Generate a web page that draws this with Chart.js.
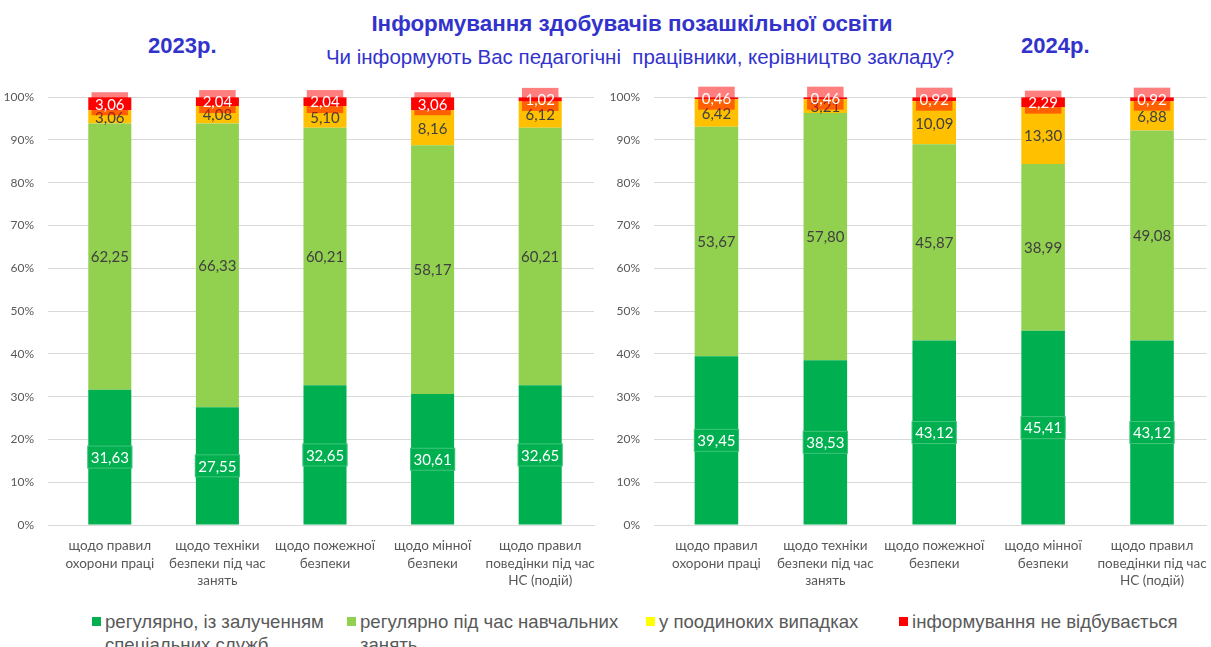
<!DOCTYPE html>
<html lang="uk">
<head>
<meta charset="utf-8">
<script src="https://cdn.jsdelivr.net/npm/chart.js@4.4.1/dist/chart.umd.min.js"></script>
<style>
  body { margin: 0; width: 1211px; height: 647px; overflow: hidden; background: #fff; position: relative; font-family: "Liberation Sans", Arial, sans-serif; }
  .title { position: absolute; left: 0; text-align: center; color: #3333CC; white-space: nowrap; }
  #mainTitle { top: 11px; width: 1264px; font-size: 22.4px; font-weight: bold; }
  #subTitle { top: 45px; width: 1280px; font-size: 20.5px; }
  .year { position: absolute; top: 33px; font-size: 22px; font-weight: bold; color: #3333CC; }
  canvas { position: absolute; top: 76px; }
  #chart2023 { left: 0; }
  #chart2024 { left: 605px; }
  .legend-item { position: absolute; top: 610px; font-size: 18.6px; line-height: 23px; color: #595959; white-space: pre-line; }
  .legend-item span.mark { position: absolute; left: -13px; top: 7px; width: 9px; height: 9px; }
</style>
</head>
<body>
<div class="title" id="mainTitle">Інформування здобувачів позашкільної освіти</div>
<div class="title" id="subTitle">Чи інформують Вас педагогічні&nbsp; працівники, керівництво закладу?</div>
<div class="year" style="left:148px">2023р.</div>
<div class="year" style="left:1021px">2024р.</div>
<canvas id="chart2023" width="600" height="524"></canvas>
<canvas id="chart2024" width="606" height="524"></canvas>
<div id="legend"></div>

<script>
// Категорії (підписи осі X)
const categories = [
    ['щодо правил', 'охорони праці'],
    ['щодо техніки', 'безпеки під час', 'занять'],
    ['щодо пожежної', 'безпеки'],
    ['щодо мінної', 'безпеки'],
    ['щодо правил', 'поведінки під час', 'НС (подій)']
];

const seriesNames = [
    'регулярно, із залученням\nспеціальних служб',
    'регулярно під час навчальних\nзанять',
    'у поодиноких випадках',
    'інформування не відбувається'
];

// 2023 рік, %
const regular2023 = [31.63, 27.55, 32.65, 30.61, 32.65];
const lessons2023 = [62.25, 66.33, 60.21, 58.17, 60.21];
const rare2023 = [3.06, 4.08, 5.10, 8.16, 6.12];
const none2023 = [3.06, 2.04, 2.04, 3.06, 1.02];

// 2024 рік, %
const regular2024 = [39.45, 38.53, 43.12, 45.41, 43.12];
const lessons2024 = [53.67, 57.80, 45.87, 38.99, 49.08];
const rare2024 = [6.42, 3.21, 10.09, 13.30, 6.88];
const none2024 = [0.46, 0.46, 0.92, 2.29, 0.92];

// Кольори
const barColors = ['#00B050', '#92D050', '#FFC000', '#FF0000'];
const legendColors = ['#00B050', '#92D050', '#FFFF00', '#FF0000'];
const legendLeft = [105, 360, 659, 912];

// Вигляд підписів значень для кожної серії
const labelStyles = [
    { color: '#FFFFFF', box: '#00B050', border: 'rgba(255,255,255,0.25)' },
    { color: '#404040', box: null },
    { color: '#404040', box: null },
    { color: '#FFFFFF', box: 'rgba(255,0,0,0.5)', border: null }
];

// Підписи значень по центру кожного сегмента
const valueLabels = {
    id: 'valueLabels',
    afterDatasetsDraw(chart) {
        const ctx = chart.ctx;
        ctx.save();
        ctx.font = '15px Lato';
        ctx.textAlign = 'center';
        ctx.textBaseline = 'middle';
        chart.data.datasets.forEach((ds, i) => {
            const meta = chart.getDatasetMeta(i);
            const st = labelStyles[i];
            meta.data.forEach((bar, j) => {
                const p = bar.getProps(['x', 'y', 'base'], true);
                const cy = (p.y + p.base) / 2;
                const text = ds.data[j].toFixed(2).replace('.', ',');
                const w = ctx.measureText(text).width + 7;
                if (st.box) {
                    ctx.fillStyle = st.box;
                    ctx.fillRect(p.x - w / 2, cy - 11.5, w, 23);
                    if (st.border) {
                        ctx.strokeStyle = st.border;
                        ctx.lineWidth = 1;
                        ctx.strokeRect(p.x - w / 2 + 0.5, cy - 11, w - 1, 22);
                    }
                }
                ctx.fillStyle = st.color;
                ctx.fillText(text, p.x, cy + 1);
            });
        });
        ctx.restore();
    }
};

function makeChart(id, series, yWidth, padRight) {
    return new Chart(document.getElementById(id), {
        type: 'bar',
        data: {
            labels: categories,
            datasets: series.map((data, i) => ({
                label: seriesNames[i],
                data: data,
                backgroundColor: barColors[i],
                barPercentage: 1,
                categoryPercentage: 0.4
            }))
        },
        options: {
            responsive: false,
            animation: false,
            layout: { padding: { top: 0, right: padRight, left: 0, bottom: 0 } },
            plugins: {
                legend: { display: false },
                tooltip: { enabled: false }
            },
            scales: {
                x: {
                    stacked: true,
                    grid: { display: false },
                    border: { color: '#D9D9D9' },
                    ticks: {
                        color: '#595959',
                        font: { family: 'Lato', size: 13.5, lineHeight: 1.3 },
                        padding: 4,
                        maxRotation: 0,
                        autoSkip: false
                    },
                    afterFit(scale) { scale.height = 75; }
                },
                y: {
                    stacked: true,
                    min: 0,
                    max: 100,
                    ticks: {
                        stepSize: 10,
                        callback: v => v + '%',
                        color: '#595959',
                        font: { family: 'Lato', size: 12 },
                        padding: 14
                    },
                    grid: { color: '#D9D9D9' },
                    border: { display: false },
                    afterFit(scale) { scale.width = yWidth; }
                }
            }
        },
        plugins: [valueLabels]
    });
}

makeChart('chart2023', [regular2023, lessons2023, rare2023, none2023], 56, 6);
makeChart('chart2024', [regular2024, lessons2024, rare2024, none2024], 57, 4);

// Спільна легенда під обома діаграмами
const legend = document.getElementById('legend');
seriesNames.forEach((name, i) => {
    const item = document.createElement('div');
    item.className = 'legend-item';
    item.style.left = legendLeft[i] + 'px';
    const mark = document.createElement('span');
    mark.className = 'mark';
    mark.style.background = legendColors[i];
    item.appendChild(mark);
    item.appendChild(document.createTextNode(name));
    legend.appendChild(item);
});
</script>
</body>
</html>
